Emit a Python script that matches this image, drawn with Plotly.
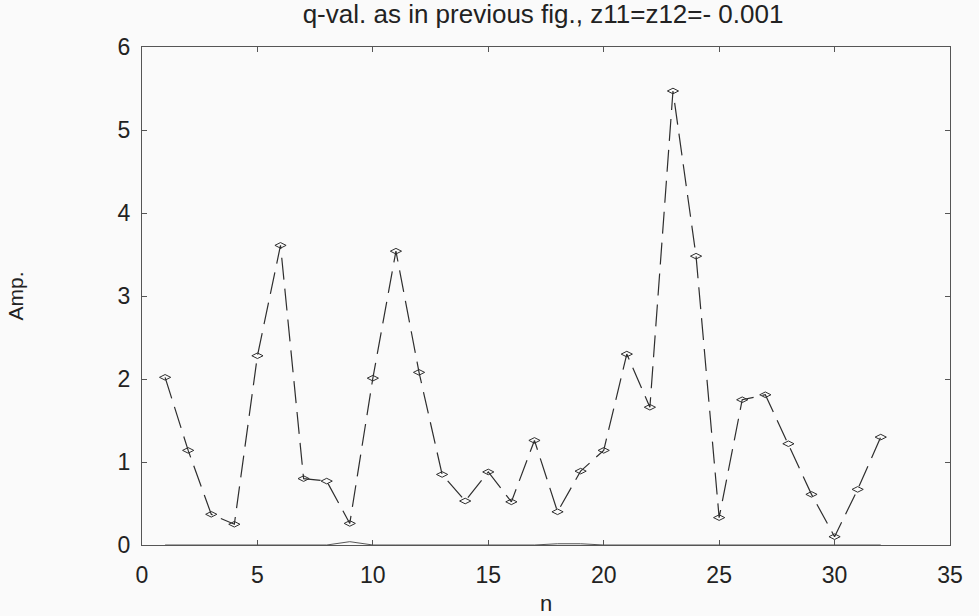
import plotly.graph_objects as go

# Mode index
n = list(range(1, 33))

# Amplitude of each mode (dashed curve with markers)
amp = [2.02, 1.14, 0.37, 0.25, 2.28, 3.61, 0.80, 0.77, 0.26, 2.01,
       3.54, 2.08, 0.85, 0.53, 0.88, 0.52, 1.26, 0.40, 0.89, 1.14,
       2.30, 1.66, 5.47, 3.48, 0.33, 1.75, 1.81, 1.22, 0.61, 0.10,
       0.67, 1.30]

# Reference amplitude (thin solid curve, close to zero)
amp_ref = [0.0, 0.0, 0.0, 0.0, 0.0, 0.0, 0.0, 0.0, 0.04, 0.0,
           0.0, 0.0, 0.0, 0.0, 0.0, 0.0, 0.0, 0.015, 0.015, 0.0,
           0.0, 0.0, 0.0, 0.0, 0.0, 0.0, 0.0, 0.0, 0.0, 0.0,
           0.0, 0.0]

x_ticks = [0, 5, 10, 15, 20, 25, 30, 35]
y_ticks = [0, 1, 2, 3, 4, 5, 6]

ink = "#2e2e2e"
bg = "#fafafa"
font_family = "Liberation Sans, Arial, sans-serif"

fig = go.Figure()
fig.add_trace(go.Scatter(
    x=n, y=amp_ref, mode="lines",
    line=dict(color="#555555", width=1),
    showlegend=False, hoverinfo="skip",
))
fig.add_trace(go.Scatter(
    x=n, y=amp, mode="lines+markers",
    line=dict(color=ink, width=1.2, dash="22px,9px"),
    marker=dict(symbol="diamond-wide-open", size=8, color=ink,
                line=dict(width=1, color=ink)),
    showlegend=False,
))

axis_common = dict(
    showgrid=False, zeroline=False, automargin=False,
    showline=True, linecolor="#555555", linewidth=1, mirror="allticks",
    ticks="inside", ticklen=5, tickcolor="#555555",
    tickfont=dict(family=font_family, size=23, color="#222222"),
)

fig.update_xaxes(range=[0, 35], tickvals=x_ticks, ticklabelstandoff=9,
                 title=dict(text="n", standoff=12,
                            font=dict(family=font_family, size=22, color="#222222")),
                 **axis_common)
fig.update_yaxes(range=[0, 6], tickvals=y_ticks, ticklabelstandoff=6,
                 title=dict(text="Amp.", standoff=88,
                            font=dict(family=font_family, size=21, color="#222222")),
                 **axis_common)

fig.update_layout(
    width=979, height=616,
    margin=dict(l=142, r=29, t=47, b=71),
    paper_bgcolor=bg, plot_bgcolor=bg,
    title=dict(text="q-val. as in previous fig., z11=z12=- 0.001",
               x=0.5547, xanchor="center", y=0.978, yanchor="middle",
               font=dict(family=font_family, size=26, color="#222222")),
)

fig.write_html("out.html")
